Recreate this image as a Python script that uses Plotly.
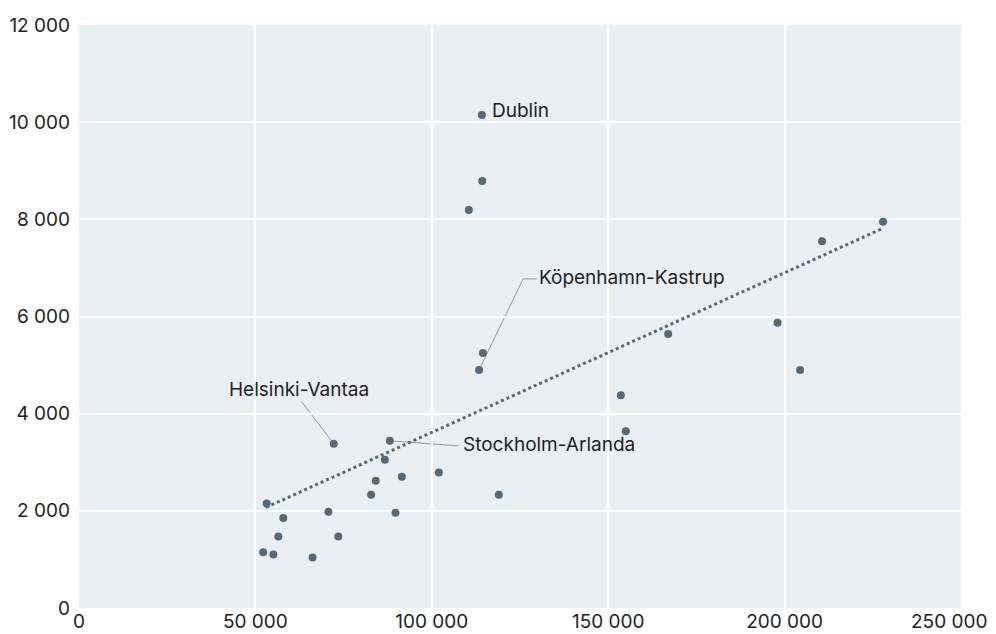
import plotly.graph_objects as go

# Airport data
airports = ["Dublin", "", "", "", "Köpenhamn-Kastrup", "", "", "", "", "", "", "",
            "Helsinki-Vantaa", "Stockholm-Arlanda", "", "", "", "", "", "", "",
            "", "", "", "", "", "", "", ""]
x_vals = [114200, 114300, 110500, 114500, 113400, 167000, 210600, 227900, 198000,
          204400, 153600, 155000, 72200, 88100, 86700, 84100, 91500, 102000, 82800,
          119000, 53200, 57900, 70700, 89700, 56500, 73500, 52200, 55100, 66200]
y_vals = [10150, 8790, 8190, 5250, 4900, 5640, 7550, 7950, 5870,
          4900, 4380, 3640, 3380, 3440, 3050, 2620, 2700, 2790, 2330,
          2330, 2150, 1850, 1980, 1960, 1470, 1470, 1150, 1100, 1040]

trend_x = [53000, 228000]
trend_y = [2070, 7820]

x_ticks = [0, 50000, 100000, 150000, 200000, 250000]
x_ticktext = ["0", "50 000", "100 000", "150 000", "200 000", "250 000"]
y_ticks = [0, 2000, 4000, 6000, 8000, 10000, 12000]

FONT = "Inter"
FS = 19
TXT = "#222222"
MARK = "#546a7b"
LEAD = "#9a9a9a"

fig = go.Figure()
fig.add_trace(go.Scatter(x=trend_x, y=trend_y, mode="lines",
                         line=dict(color=MARK, width=3, dash="dot"),
                         hoverinfo="skip", showlegend=False))
fig.add_trace(go.Scatter(x=x_vals, y=y_vals, mode="markers",
                         marker=dict(color=MARK, size=8),
                         text=airports, showlegend=False))

labels = {
    "Dublin": dict(xs=8, ys=4, xanchor="left", path=None),
    "Köpenhamn-Kastrup": dict(xs=58, ys=92, xanchor="left", path="M 0,0 L 44,91 L 58,91"),
    "Helsinki-Vantaa": dict(xs=-35, ys=54, xanchor="center", path="M 0,0 L -32,42"),
    "Stockholm-Arlanda": dict(xs=71, ys=-4, xanchor="left", path="M 0,0 L 69,-5"),
}
for name, cfg in labels.items():
    i = airports.index(name)
    if cfg["path"]:
        fig.add_shape(type="path", xref="x", yref="y",
                      xsizemode="pixel", ysizemode="pixel",
                      xanchor=x_vals[i], yanchor=y_vals[i],
                      path=cfg["path"], line=dict(color=LEAD, width=1), layer="below")
    fig.add_annotation(x=x_vals[i], y=y_vals[i], text=name, showarrow=False,
                       xanchor=cfg["xanchor"], yanchor="middle",
                       xshift=cfg["xs"], yshift=cfg["ys"],
                       font=dict(family=FONT, size=FS, color=TXT))

# last x tick label is kept inside the canvas (justified left of its tick)
fig.add_annotation(x=x_ticks[-1], y=0, xref="x", yref="paper", text=x_ticktext[-1],
                   showarrow=False, xanchor="right", yanchor="middle",
                   xshift=28, yshift=-13, font=dict(family=FONT, size=FS, color=TXT))

fig.update_layout(
    width=988, height=626,
    margin=dict(l=71, r=35, t=17, b=26),
    paper_bgcolor="white",
    plot_bgcolor="#eaeff3",
    separators=", ",
    font=dict(family=FONT, size=FS, color=TXT),
    hovermode="closest",
)
fig.update_xaxes(range=[0, 250000], tickvals=x_ticks,
                 ticktext=x_ticktext[:-1] + [""],
                 showgrid=True, gridcolor="white", gridwidth=2, zeroline=False,
                 showline=False, ticks="", automargin=False, ticklabeloverflow="allow",
                 tickfont=dict(family=FONT, size=FS, color=TXT))
fig.update_yaxes(range=[0, 12000], tickvals=y_ticks, tickformat=",d",
                 showgrid=True, gridcolor="white", gridwidth=2, zeroline=False,
                 showline=False, ticks="", ticklabelstandoff=8, automargin=False,
                 ticklabeloverflow="allow",
                 tickfont=dict(family=FONT, size=FS, color=TXT))

fig.write_html("out.html")
